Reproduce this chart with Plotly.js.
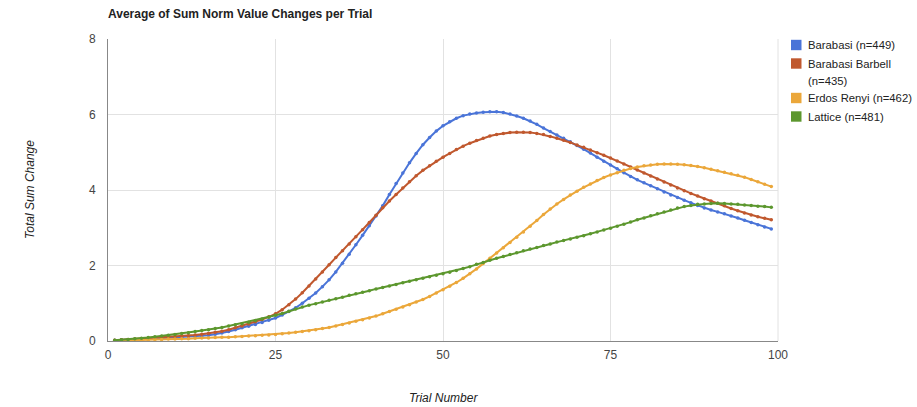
<!DOCTYPE html>
<html>
<head>
<meta charset="utf-8">
<script src="https://cdn.plot.ly/plotly-3.0.1.min.js"></script>
<style>html,body{margin:0;padding:0;background:#fff}#chart{width:917px;height:407px}</style>
</head>
<body>
<div id="chart"></div>
<script>
const trials = Array.from({length: 99}, (_, i) => i + 1);

const seriesNames = ["Barabasi (n=449)", "Barabasi Barbell (n=435)", "Erdos Renyi (n=462)", "Lattice (n=481)"];
const legendLines = [["Barabasi (n=449)"], ["Barabasi Barbell", "(n=435)"], ["Erdos Renyi (n=462)"], ["Lattice (n=481)"]];
const seriesColors = ["#4a74d8", "#c0582e", "#eba73a", "#5c972e"];

const barabasi = [
0.02,0.03,0.03,0.04,0.05,0.05,0.06,0.07,0.08,0.09,
0.10,0.11,0.12,0.13,0.15,0.18,0.21,0.25,0.30,0.35,
0.39,0.44,0.49,0.55,0.61,0.69,0.78,0.88,1.00,1.13,
1.27,1.44,1.62,1.83,2.06,2.30,2.55,2.80,3.05,3.31,
3.58,3.88,4.17,4.45,4.72,4.97,5.20,5.39,5.56,5.70,
5.81,5.90,5.97,6.01,6.04,6.06,6.07,6.07,6.05,6.01,
5.96,5.90,5.83,5.74,5.64,5.55,5.46,5.37,5.28,5.18,
5.08,4.98,4.87,4.76,4.66,4.56,4.46,4.36,4.27,4.19,
4.11,4.03,3.95,3.87,3.80,3.73,3.66,3.59,3.52,3.47,
3.42,3.37,3.31,3.26,3.20,3.14,3.08,3.02,2.97];

const barbell = [
0.02,0.03,0.04,0.05,0.06,0.07,0.08,0.09,0.10,0.11,
0.13,0.14,0.16,0.18,0.20,0.23,0.26,0.30,0.35,0.40,
0.45,0.51,0.57,0.64,0.72,0.83,0.96,1.11,1.28,1.46,
1.64,1.83,2.02,2.21,2.39,2.57,2.76,2.95,3.14,3.33,
3.53,3.71,3.88,4.05,4.22,4.38,4.52,4.64,4.76,4.87,
4.97,5.07,5.16,5.24,5.31,5.37,5.43,5.47,5.50,5.52,
5.53,5.53,5.52,5.50,5.47,5.42,5.37,5.32,5.26,5.19,
5.13,5.06,4.99,4.92,4.85,4.77,4.69,4.61,4.53,4.45,
4.37,4.29,4.21,4.13,4.05,3.98,3.91,3.84,3.77,3.71,
3.65,3.58,3.51,3.45,3.39,3.34,3.29,3.25,3.21];

const erdosRenyi = [
0.01,0.01,0.02,0.02,0.03,0.03,0.04,0.04,0.05,0.05,
0.06,0.06,0.07,0.08,0.08,0.09,0.10,0.10,0.11,0.12,
0.13,0.14,0.15,0.16,0.17,0.19,0.21,0.23,0.25,0.27,
0.30,0.33,0.36,0.40,0.44,0.48,0.52,0.56,0.61,0.66,
0.72,0.78,0.84,0.90,0.96,1.03,1.10,1.18,1.27,1.36,
1.45,1.55,1.66,1.78,1.91,2.05,2.19,2.33,2.47,2.61,
2.75,2.89,3.04,3.19,3.35,3.50,3.63,3.75,3.87,3.97,
4.07,4.16,4.25,4.33,4.40,4.46,4.52,4.57,4.61,4.64,
4.66,4.68,4.69,4.69,4.68,4.67,4.65,4.62,4.59,4.55,
4.51,4.47,4.43,4.39,4.34,4.28,4.22,4.15,4.09];

const lattice = [
0.02,0.03,0.04,0.06,0.07,0.09,0.11,0.13,0.15,0.17,
0.20,0.22,0.25,0.28,0.30,0.33,0.36,0.40,0.43,0.46,
0.50,0.54,0.58,0.63,0.68,0.73,0.79,0.85,0.90,0.95,
0.99,1.03,1.08,1.12,1.16,1.21,1.25,1.29,1.33,1.38,
1.42,1.46,1.50,1.54,1.58,1.62,1.66,1.70,1.74,1.78,
1.82,1.87,1.92,1.97,2.03,2.08,2.14,2.19,2.24,2.29,
2.34,2.39,2.44,2.48,2.53,2.57,2.62,2.66,2.70,2.75,
2.79,2.84,2.89,2.94,2.99,3.04,3.09,3.15,3.21,3.26,
3.32,3.37,3.42,3.47,3.52,3.56,3.59,3.62,3.63,3.64,
3.65,3.64,3.63,3.62,3.60,3.59,3.57,3.56,3.54];

const xTicks = [0, 25, 50, 75, 100];
const yTicks = [0, 2, 4, 6, 8];

const allSeries = [barabasi, barbell, erdosRenyi, lattice];
const font = "Arial, 'Liberation Sans', sans-serif";

// plot area geometry (px) used to place the hand-drawn legend
const W = 917, H = 407, L = 108, R = 139, T = 39, B = 66;
const pw = W - L - R, ph = H - T - B;
const px2x = p => (p - L) / pw;
const py2y = p => (H - B - p) / ph;

const traces = allSeries.map((ys, i) => ({
  type: "scatter", mode: "lines+markers", x: trials, y: ys,
  name: seriesNames[i], showlegend: false, hoverinfo: "x+y",
  line: {color: seriesColors[i], width: 2},
  marker: {color: seriesColors[i], size: 3.5}
}));

// legend: square swatch + text lines
const legendRowY = [45, 63.5, 98, 116.5];
const lineGap = 17;
const shapes = [{type: "line", xref: "paper", yref: "paper", x0: 1, x1: 1, y0: 0, y1: 1,
                 line: {color: "#e2e2e2", width: 1}}];
const annotations = [
  {text: "Trial Number", xref: "paper", yref: "paper", x: 0.5, y: py2y(398),
   xanchor: "center", yanchor: "middle", showarrow: false,
   font: {family: font, size: 12, color: "#222", style: "italic"}},
  {text: "Total Sum Change", xref: "paper", yref: "paper", x: px2x(30), y: 0.5,
   xanchor: "center", yanchor: "middle", textangle: -90, showarrow: false,
   font: {family: font, size: 12, color: "#222", style: "italic"}}
];
legendRowY.forEach((cy, i) => {
  shapes.push({type: "rect", xref: "paper", yref: "paper",
    x0: px2x(791), x1: px2x(801.5), y0: py2y(cy + 5.2), y1: py2y(cy - 5.2),
    fillcolor: seriesColors[i], line: {width: 0}});
  legendLines[i].forEach((t, k) => {
    annotations.push({text: t, xref: "paper", yref: "paper",
      x: px2x(806), y: py2y(cy + k * lineGap), xanchor: "left", yanchor: "middle",
      showarrow: false, font: {family: font, size: 11.3, color: "#222"}});
  });
});

const layout = {
  width: W, height: H,
  margin: {l: L, r: R, t: T, b: B},
  paper_bgcolor: "#fff", plot_bgcolor: "#fff",
  font: {family: font, size: 12, color: "#444"},
  showlegend: false,
  title: {text: "<b>Average of Sum Norm Value Changes per Trial</b>",
          font: {family: font, size: 12, color: "#222"},
          xref: "paper", x: 0, xanchor: "left",
          yref: "container", y: 1 - 14/H, yanchor: "middle"},
  xaxis: {range: [0, 100], tickvals: xTicks, ticktext: xTicks.map(String),
          showgrid: true, gridcolor: "#e2e2e2", gridwidth: 1,
          zeroline: false, showline: true, linecolor: "#888", linewidth: 1,
          ticks: "", ticklabelstandoff: 3, tickfont: {size: 12, color: "#444"}, fixedrange: true},
  yaxis: {range: [0, 8], tickvals: yTicks, ticktext: yTicks.map(String),
          showgrid: true, gridcolor: "#e2e2e2", gridwidth: 1,
          zeroline: false, showline: true, linecolor: "#888", linewidth: 1,
          ticks: "", ticklabelstandoff: 9, tickfont: {size: 12, color: "#444"}, fixedrange: true},
  shapes: shapes,
  annotations: annotations
};

Plotly.newPlot("chart", traces, layout, {displayModeBar: false, staticPlot: true});
</script>
</body>
</html>
